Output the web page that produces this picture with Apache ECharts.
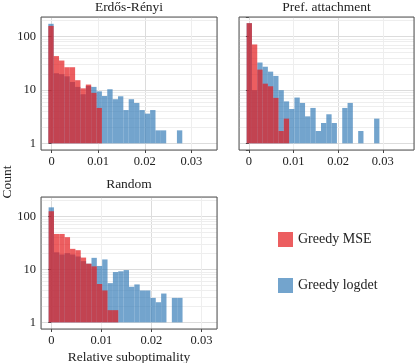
<!DOCTYPE html>
<html>
<head>
<meta charset="utf-8">
<script src="https://cdn.jsdelivr.net/npm/echarts@6/dist/echarts.min.js"></script>
<style>
html, body { margin: 0; padding: 0; background: #fff; }
#main { width: 415px; height: 363px; }
</style>
</head>
<body>
<div id="main"></div>
<script>
// histogram heights (log y axis), one array per panel / method
var panelTitles = ['Erdős-Rényi', 'Pref. attachment', 'Random'];
var seriesNames = ['Greedy MSE', 'Greedy logdet'];
var xTicks = [0, 0.01, 0.02, 0.03];
var yTicks = [1, 10, 100];

var erMse = [158, 43, 35.5, 26.6, 26.6, 15.2, 10.7, 12.6, 8.8, 4.6];
var erLogdet = [173, 20.5, 19.7, 18, 14.1, 11.4, 8.3, 11.9, 11.4, 9.4, 7.7, 10.3, 6.7, 7.6, 4.2, 6.7, 5.7, 4.2, 3.6, 4.2, 1.75, 1.75, 0, 0, 1.75];

var paMse = [178, 71, 24, 13.1, 11.7, 7.1, 1.7, 2.9];
var paLogdet = [178, 9.9, 32.6, 27.2, 22, 18.3, 9.9, 6.1, 4.4, 7.2, 5.7, 3.2, 4.6, 1.7, 2.4, 3.5, 2.4, 0, 4.6, 5.7, 0, 1.7, 0, 0, 2.9];

var rdMse = [125, 46.6, 46.6, 40.5, 24.4, 23, 16.7, 12.8, 11.4, 5.3, 4.0, 1.7, 1.7];
var rdLogdet = [148, 21, 19.1, 20.2, 19.1, 17.5, 14.3, 12.8, 16.5, 11.6, 15.4, 5.5, 8.9, 9.2, 9.7, 4.7, 5.2, 4.0, 4.0, 2.9, 2.4, 3.5, 0, 2.9, 2.9];

// bin layout of each panel (x units)
var binStart = [-0.0007, -0.0005, -0.00053];
var binWidth = [0.00115, 0.00119, 0.00107];
var xRange = [[-0.00227, 0.0355], [-0.00221, 0.037], [-0.00205, 0.0331]];
var yRange = [0.75, 232];

var FONT = '"Liberation Serif", "DejaVu Serif", serif';
var RED = 'rgba(228, 26, 28, 0.7)';
var BLUE = 'rgba(55, 126, 184, 0.7)';

var grids = [
    { left: 41, top: 17, width: 176, height: 133 },
    { left: 239, top: 17, width: 175, height: 133 },
    { left: 41, top: 197, width: 176, height: 132 }
];

function toBins(counts, p) {
    var out = [];
    counts.forEach(function (c, k) {
        if (c > 0) {
            out.push([binStart[p] + k * binWidth[p], binStart[p] + (k + 1) * binWidth[p], c]);
        }
    });
    return out;
}

function drawBin(params, api) {
    var top = api.coord([api.value(0), api.value(2)]);
    var base = api.coord([api.value(1), 1]);
    return {
        type: 'rect',
        shape: { x: top[0], y: top[1], width: base[0] - top[0], height: base[1] - top[1] },
        style: api.style()
    };
}

// light minor grid: 2..9 per decade, and the half-way x positions
function minorLines(p) {
    var lines = [];
    [2, 3, 4, 5, 6, 7, 8, 9].forEach(function (m) {
        yTicks.forEach(function (t) {
            var v = m * t;
            if (v > yRange[0] && v < yRange[1]) lines.push({ yAxis: v });
        });
    });
    xTicks.forEach(function (t) {
        var v = t + 0.005;
        if (v < xRange[p][1] - 0.001) lines.push({ xAxis: v });
    });
    return lines;
}

var mse = [erMse, paMse, rdMse];
var logdet = [erLogdet, paLogdet, rdLogdet];

var xAxes = [], yAxes = [], series = [], titles = [];
grids.forEach(function (g, p) {
    xAxes.push({
        type: 'value', gridIndex: p, min: xRange[p][0], max: xRange[p][1], splitNumber: 4,
        axisLine: { show: false },
        axisTick: { show: true, length: 3, lineStyle: { color: '#444' } },
        axisLabel: {
            showMinLabel: false, showMaxLabel: false, margin: 5,
            fontFamily: FONT, fontSize: 12.5, color: '#222',
            formatter: function (v) { return Math.abs(v) < 1e-9 ? '0' : String(+v.toFixed(3)); }
        },
        splitLine: { show: true, lineStyle: { color: '#dcdcdc', width: 1 } }
    });
    yAxes.push({
        type: 'log', gridIndex: p, min: yRange[0], max: yRange[1], logBase: 10,
        axisLine: { show: false },
        axisTick: { show: true, length: 3, lineStyle: { color: '#444' } },
        axisLabel: {
            show: p !== 1, showMinLabel: false, showMaxLabel: false, margin: 5,
            fontFamily: FONT, fontSize: 12.5, color: '#222',
            formatter: function (v) {
                var l = Math.log10(v);
                return Math.abs(l - Math.round(l)) < 1e-6 ? String(Math.round(v)) : '';
            }
        },
        splitLine: { show: true, lineStyle: { color: '#dcdcdc', width: 1 } }
    });
    titles.push({
        text: panelTitles[p], left: g.left + g.width / 2, top: Math.max(0, g.top - 20),
        textAlign: 'center', padding: 0,
        textStyle: { fontFamily: FONT, fontSize: 13.5, fontWeight: 'normal', color: '#222' }
    });
    series.push({
        type: 'line', xAxisIndex: p, yAxisIndex: p, data: [], z: 1, silent: true,
        markLine: {
            silent: true, symbol: 'none', label: { show: false }, animation: false, z: 1,
            lineStyle: { type: 'solid', color: '#eeeeee', width: 1 },
            data: minorLines(p)
        }
    });
    series.push({
        name: seriesNames[1], type: 'custom', xAxisIndex: p, yAxisIndex: p, z: 3,
        renderItem: drawBin, clip: true, encode: { x: [0, 1], y: 2 },
        itemStyle: { color: BLUE }, data: toBins(logdet[p], p)
    });
    series.push({
        name: seriesNames[0], type: 'custom', xAxisIndex: p, yAxisIndex: p, z: 4,
        renderItem: drawBin, clip: true, encode: { x: [0, 1], y: 2 },
        itemStyle: { color: RED }, data: toBins(mse[p], p)
    });
});

var chart = echarts.init(document.getElementById('main'));
chart.setOption({
    animation: false,
    title: titles,
    grid: grids.map(function (g) {
        return Object.assign({ show: true, borderColor: '#555', borderWidth: 1, backgroundColor: 'transparent', z: 10 }, g);
    }),
    xAxis: xAxes,
    yAxis: yAxes,
    legend: {
        orient: 'vertical', left: 278, top: 232, padding: 0, itemWidth: 15, itemHeight: 15, itemGap: 31,
        icon: 'rect', selectedMode: false, data: seriesNames,
        textStyle: { fontFamily: FONT, fontSize: 14, color: '#222' }
    },
    graphic: [
        { type: 'text', x: 7, y: 182, rotation: Math.PI / 2,
          style: { text: 'Count', align: 'center', verticalAlign: 'middle', font: '13.5px ' + FONT, fill: '#222' } },
        { type: 'text', x: 129, y: 357,
          style: { text: 'Relative suboptimality', align: 'center', verticalAlign: 'middle', font: '13.5px ' + FONT, fill: '#222' } }
    ],
    series: series
});
</script>
</body>
</html>
